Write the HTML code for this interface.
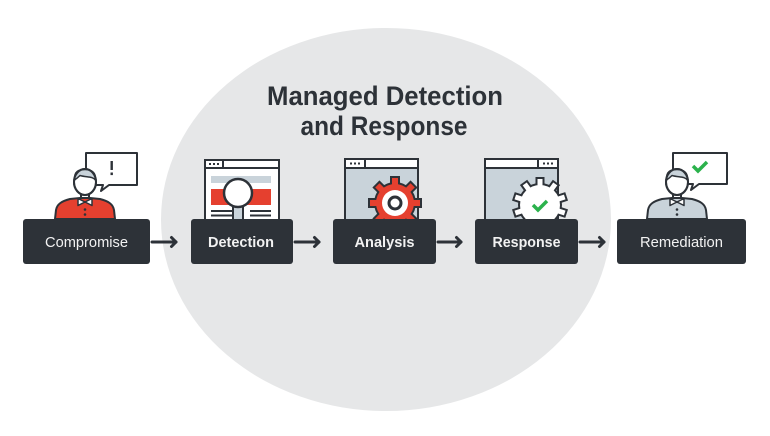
<!DOCTYPE html>
<html><head><meta charset="utf-8"><style>
html,body{margin:0;padding:0;background:#fff;}
svg{display:block;}
text{font-family:"Liberation Sans",Arial,sans-serif;}
</style></head><body>
<svg width="770" height="436" viewBox="0 0 770 436" xmlns="http://www.w3.org/2000/svg">
<rect width="770" height="436" fill="#ffffff"/>
<ellipse cx="386" cy="219.5" rx="225" ry="191.5" fill="#e6e7e8"/>

<!-- Title -->
<text x="385" y="105" text-anchor="middle" font-size="27" font-weight="bold" fill="#2d3238" textLength="236" lengthAdjust="spacingAndGlyphs">Managed Detection</text>
<text x="384" y="135" text-anchor="middle" font-size="27" font-weight="bold" fill="#2d3238" textLength="167" lengthAdjust="spacingAndGlyphs">and Response</text>

<!-- Compromise person -->
<g stroke="#2d3238" stroke-width="2" stroke-linejoin="round">
  <path d="M86,153 H137 V185 H109 L101,191 L103,185 H86 Z" fill="#fff"/>
  <rect x="110.5" y="161" width="2.4" height="9" fill="#2d3238" stroke="none"/>
  <rect x="110.5" y="172.5" width="2.4" height="2.6" fill="#2d3238" stroke="none"/>
  <path d="M55,219 L56,210 C57,204 62,201 70,199 L80,198 L90,198 L100,199 C108,201 113,204 114,210 L115,219 Z" fill="#e5402f"/>
  <line x1="81" y1="193" x2="81" y2="199"/><line x1="89" y1="193" x2="89" y2="199"/>
  <ellipse cx="85" cy="182" rx="11" ry="13" fill="#fff"/>
  <path d="M74.5,180 C74,171 79,169.5 85,169.5 C91,169.5 96,172 95.5,180 C92,176 87,177.5 80,175.5 C78,177.5 76,179 74.5,180 Z" fill="#c9d3da" stroke-width="1.5"/>
  <ellipse cx="85" cy="182" rx="11" ry="13" fill="none"/>
  <path d="M78,198.5 L85,202 L78,205.5 Z M92,198.5 L85,202 L92,205.5 Z" fill="#fff" stroke-width="1.5"/>
  <circle cx="85" cy="209.5" r="1.3" fill="#2d3238" stroke="none"/>
  <circle cx="85" cy="214.5" r="1.3" fill="#2d3238" stroke="none"/>
</g>

<!-- Remediation person -->
<g stroke="#2d3238" stroke-width="2" stroke-linejoin="round" transform="translate(592,0)">
  <path d="M81,153 H135 V184 H107 L99,190 L101,184 H81 Z" fill="#fff"/>
  <polyline points="101,166 106,171 115,162" fill="none" stroke="#2bb24c" stroke-width="3.5" stroke-linejoin="miter"/>
  <path d="M55,219 L56,210 C57,204 62,201 70,199 L80,198 L90,198 L100,199 C108,201 113,204 114,210 L115,219 Z" fill="#c9d3da"/>
  <line x1="81" y1="193" x2="81" y2="199"/><line x1="89" y1="193" x2="89" y2="199"/>
  <ellipse cx="85" cy="182" rx="11" ry="13" fill="#fff"/>
  <path d="M74.5,180 C74,171 79,169.5 85,169.5 C91,169.5 96,172 95.5,180 C92,176 87,177.5 80,175.5 C78,177.5 76,179 74.5,180 Z" fill="#c9d3da" stroke-width="1.5"/>
  <ellipse cx="85" cy="182" rx="11" ry="13" fill="none"/>
  <path d="M78,198.5 L85,202 L78,205.5 Z M92,198.5 L85,202 L92,205.5 Z" fill="#fff" stroke-width="1.5"/>
  <circle cx="85" cy="209.5" r="1.3" fill="#2d3238" stroke="none"/>
  <circle cx="85" cy="214.5" r="1.3" fill="#2d3238" stroke="none"/>
</g>

<!-- Detection icon -->
<g stroke="#2d3238" stroke-width="2">
  <rect x="205" y="160" width="74" height="64" fill="#fff"/>
  <line x1="205" y1="168" x2="279" y2="168"/>
  <line x1="223" y1="160" x2="223" y2="168"/>
  <rect x="211" y="176" width="60" height="7" fill="#c9d3da" stroke="none"/>
  <rect x="211" y="189" width="60" height="16" fill="#e5402f" stroke="none"/>
  <line x1="211" y1="211" x2="232" y2="211"/><line x1="211" y1="215.5" x2="232" y2="215.5"/>
  <line x1="250" y1="211" x2="271" y2="211"/><line x1="250" y1="215.5" x2="271" y2="215.5"/>
  <rect x="233" y="206" width="10" height="16" fill="#c9d3da"/>
  <circle cx="238" cy="193" r="14" fill="#fff" stroke-width="2.5"/>
</g>
<g fill="#2d3238"><rect x="209" y="163" width="2" height="2"/><rect x="213" y="163" width="2" height="2"/><rect x="217" y="163" width="2" height="2"/></g>

<!-- Analysis icon -->
<g stroke="#2d3238" stroke-width="2">
  <rect x="345" y="159" width="73" height="64" fill="#c9d3da"/>
  <rect x="345" y="159" width="73" height="9" fill="#fff"/>
  <line x1="365" y1="159" x2="365" y2="168"/>
</g>
<g fill="#2d3238"><rect x="350" y="162.5" width="2" height="2"/><rect x="354" y="162.5" width="2" height="2"/><rect x="358" y="162.5" width="2" height="2"/></g>
<g>
  <g fill="#2d3238">
    <circle cx="395" cy="203" r="21"/>
    <rect x="390" y="176" width="10" height="14" transform="rotate(0 395 203)"/>
    <rect x="390" y="176" width="10" height="14" transform="rotate(45 395 203)"/>
    <rect x="390" y="176" width="10" height="14" transform="rotate(90 395 203)"/>
    <rect x="390" y="176" width="10" height="14" transform="rotate(135 395 203)"/>
    <rect x="390" y="176" width="10" height="14" transform="rotate(180 395 203)"/>
    <rect x="390" y="176" width="10" height="14" transform="rotate(225 395 203)"/>
    <rect x="390" y="176" width="10" height="14" transform="rotate(270 395 203)"/>
    <rect x="390" y="176" width="10" height="14" transform="rotate(315 395 203)"/>
  </g>
  <g fill="#e5402f">
    <circle cx="395" cy="203" r="19"/>
    <rect x="392" y="178" width="6" height="12" transform="rotate(0 395 203)"/>
    <rect x="392" y="178" width="6" height="12" transform="rotate(45 395 203)"/>
    <rect x="392" y="178" width="6" height="12" transform="rotate(90 395 203)"/>
    <rect x="392" y="178" width="6" height="12" transform="rotate(135 395 203)"/>
    <rect x="392" y="178" width="6" height="12" transform="rotate(180 395 203)"/>
    <rect x="392" y="178" width="6" height="12" transform="rotate(225 395 203)"/>
    <rect x="392" y="178" width="6" height="12" transform="rotate(270 395 203)"/>
    <rect x="392" y="178" width="6" height="12" transform="rotate(315 395 203)"/>
  </g>
  <circle cx="395" cy="203" r="13" fill="#fff"/>
  <circle cx="395" cy="203" r="6" fill="#fff" stroke="#2d3238" stroke-width="3"/>
</g>

<!-- Response icon -->
<g stroke="#2d3238" stroke-width="2">
  <rect x="485" y="159" width="73" height="64" fill="#c9d3da"/>
  <rect x="485" y="159" width="73" height="9" fill="#fff"/>
  <line x1="538" y1="159" x2="538" y2="168"/>
</g>
<g fill="#2d3238"><rect x="543" y="162.5" width="2" height="2"/><rect x="547" y="162.5" width="2" height="2"/><rect x="551" y="162.5" width="2" height="2"/></g>
<g>
  <g fill="#2d3238">
    <circle cx="540" cy="205" r="22"/>
    <rect x="535.5" y="177" width="9" height="14" transform="rotate(0 540 205)"/>
    <rect x="535.5" y="177" width="9" height="14" transform="rotate(36 540 205)"/>
    <rect x="535.5" y="177" width="9" height="14" transform="rotate(72 540 205)"/>
    <rect x="535.5" y="177" width="9" height="14" transform="rotate(108 540 205)"/>
    <rect x="535.5" y="177" width="9" height="14" transform="rotate(144 540 205)"/>
    <rect x="535.5" y="177" width="9" height="14" transform="rotate(180 540 205)"/>
    <rect x="535.5" y="177" width="9" height="14" transform="rotate(216 540 205)"/>
    <rect x="535.5" y="177" width="9" height="14" transform="rotate(252 540 205)"/>
    <rect x="535.5" y="177" width="9" height="14" transform="rotate(288 540 205)"/>
    <rect x="535.5" y="177" width="9" height="14" transform="rotate(324 540 205)"/>
  </g>
  <g fill="#ffffff">
    <circle cx="540" cy="205" r="20"/>
    <rect x="537.5" y="179" width="5" height="12" transform="rotate(0 540 205)"/>
    <rect x="537.5" y="179" width="5" height="12" transform="rotate(36 540 205)"/>
    <rect x="537.5" y="179" width="5" height="12" transform="rotate(72 540 205)"/>
    <rect x="537.5" y="179" width="5" height="12" transform="rotate(108 540 205)"/>
    <rect x="537.5" y="179" width="5" height="12" transform="rotate(144 540 205)"/>
    <rect x="537.5" y="179" width="5" height="12" transform="rotate(180 540 205)"/>
    <rect x="537.5" y="179" width="5" height="12" transform="rotate(216 540 205)"/>
    <rect x="537.5" y="179" width="5" height="12" transform="rotate(252 540 205)"/>
    <rect x="537.5" y="179" width="5" height="12" transform="rotate(288 540 205)"/>
    <rect x="537.5" y="179" width="5" height="12" transform="rotate(324 540 205)"/>
  </g>
  <polyline points="533,205 538,210 547,201" fill="none" stroke="#2bb24c" stroke-width="3.5"/>
</g>

<!-- Boxes -->
<g fill="#2d3238">
  <rect x="23" y="219" width="127" height="45" rx="3"/>
  <rect x="191" y="219" width="102" height="45" rx="3"/>
  <rect x="333" y="219" width="103" height="45" rx="3"/>
  <rect x="475" y="219" width="103" height="45" rx="3"/>
  <rect x="617" y="219" width="129" height="45" rx="3"/>
</g>
<g fill="#f2f2f2" font-size="15" text-anchor="middle">
  <text x="86.5" y="247" textLength="83" lengthAdjust="spacingAndGlyphs">Compromise</text>
  <text x="241" y="247" font-weight="bold" textLength="66" lengthAdjust="spacingAndGlyphs">Detection</text>
  <text x="384.5" y="247" font-weight="bold" textLength="60" lengthAdjust="spacingAndGlyphs">Analysis</text>
  <text x="526.5" y="247" font-weight="bold" textLength="68" lengthAdjust="spacingAndGlyphs">Response</text>
  <text x="681.5" y="247" textLength="83" lengthAdjust="spacingAndGlyphs">Remediation</text>
</g>

<!-- Arrows -->
<g stroke="#2d3238" stroke-width="3" fill="none" stroke-linecap="round" stroke-linejoin="round">
  <line x1="152" y1="242" x2="176" y2="242"/><polyline points="171.5,237.5 176,242 171.5,246.5"/>
  <line x1="295" y1="242" x2="319" y2="242"/><polyline points="314.5,237.5 319,242 314.5,246.5"/>
  <line x1="438" y1="242" x2="461" y2="242"/><polyline points="456.5,237.5 461,242 456.5,246.5"/>
  <line x1="580" y1="242" x2="604" y2="242"/><polyline points="599.5,237.5 604,242 599.5,246.5"/>
</g>
</svg>
</body></html>
